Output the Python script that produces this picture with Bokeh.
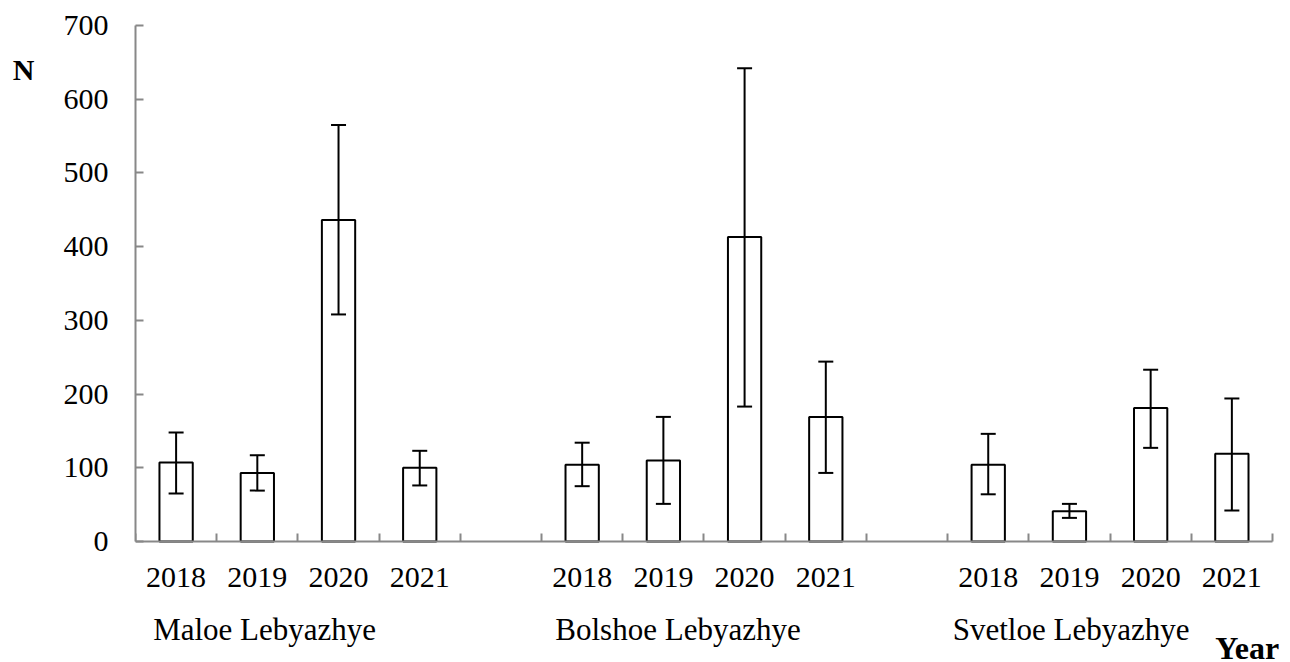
from bokeh.plotting import figure
from bokeh.models import (ColumnDataSource, Range1d, FixedTicker, Whisker, TeeHead, LinearAxis, Label)
from bokeh.core.properties import value
from bokeh.embed import file_html
from bokeh.resources import INLINE

# ---- data ----
sites = ["Maloe Lebyazhye", "Bolshoe Lebyazhye", "Svetloe Lebyazhye"]
years = ["2018", "2019", "2020", "2021"]
maloe_mean = [107, 93, 436, 100]
maloe_low = [65, 69, 308, 76]
maloe_high = [148, 117, 565, 123]
bolshoe_mean = [104, 110, 413, 169]
bolshoe_low = [75, 51, 183, 93]
bolshoe_high = [134, 169, 642, 244]
svetloe_mean = [104, 41, 181, 119]
svetloe_low = [64, 32, 127, 42]
svetloe_high = [146, 51, 233, 194]
y_ticks = [0, 100, 200, 300, 400, 500, 600, 700]
y_title = "N"
x_title = "Year"

FONT = "Liberation Serif"
GRAY = "#888888"

means = [maloe_mean, bolshoe_mean, svetloe_mean]
lows = [maloe_low, bolshoe_low, svetloe_low]
highs = [maloe_high, bolshoe_high, svetloe_high]

n_years = len(years)
slots_per_group = n_years + 1
n_slots = len(sites) * slots_per_group - 1

xs, tops, lo, hi, labels = [], [], [], [], {}
for g in range(len(sites)):
    for i in range(n_years):
        c = g * slots_per_group + i + 0.5
        xs.append(c)
        tops.append(means[g][i])
        lo.append(lows[g][i])
        hi.append(highs[g][i])
        labels[c] = years[i]

src = ColumnDataSource(dict(x=xs, top=tops, lower=lo, upper=hi))

W, H = 1290, 662
# frame spans to the right/bottom edges; axis is pinned at y = 0
p = figure(width=W, height=H, output_backend="svg", toolbar_location=None,
           x_range=Range1d(0, 14.222), y_range=Range1d(-164.2, 700),
           min_border_left=135, min_border_right=0, min_border_top=25,
           min_border_bottom=0)
p.outline_line_color = None
p.xgrid.grid_line_color = None
p.ygrid.grid_line_color = None
p.background_fill_color = "white"
p.border_fill_color = "white"

p.vbar(x="x", top="top", bottom=0, width=0.41, source=src,
       fill_color="white", line_color="black", line_width=2)

w = Whisker(base="x", lower="lower", upper="upper", source=src,
            line_color="black", line_width=2, level="overlay",
            upper_head=TeeHead(size=15, line_color="black", line_width=2),
            lower_head=TeeHead(size=15, line_color="black", line_width=2))
p.add_layout(w)

# x axis (years, with slot-boundary ticks)
xa = p.xaxis[0]
xa.fixed_location = 0
xa.bounds = (0, n_slots)
xa.ticker = FixedTicker(ticks=xs, minor_ticks=list(range(0, n_slots + 1)))
xa.major_label_overrides = labels
xa.major_tick_line_color = None
xa.major_tick_in = 0
xa.major_tick_out = 0
xa.minor_tick_in = 8
xa.minor_tick_out = 0
xa.minor_tick_line_color = GRAY
xa.minor_tick_line_width = 2
xa.axis_line_color = GRAY
xa.axis_line_width = 2
xa.major_label_text_font = FONT
xa.major_label_text_font_size = "30px"
xa.major_label_text_color = "black"
xa.major_label_standoff = 27

# site names under the year labels
site_pos = [1.59, 6.68, 11.52]
p.text(x=site_pos, y=[-119.5] * len(sites), text=sites,
       text_font=value(FONT), text_font_size="31px", text_color="black",
       text_align="center", text_baseline="alphabetic")

# x title
p.add_layout(Label(x=13.69, y=-144.0, text=x_title, text_font=FONT,
                   text_font_size="32px", text_font_style="bold",
                   text_color="black", text_align="center",
                   text_baseline="alphabetic"))

# y axis
ya = p.yaxis[0]
ya.bounds = (0, 700)
ya.ticker = FixedTicker(ticks=y_ticks)
ya.major_tick_in = 8
ya.major_tick_out = 0
ya.major_tick_line_color = GRAY
ya.major_tick_line_width = 2
ya.minor_tick_line_color = None
ya.axis_line_color = GRAY
ya.axis_line_width = 2
ya.major_label_text_font = FONT
ya.major_label_text_font_size = "30px"
ya.major_label_text_color = "black"
ya.major_label_standoff = 27

# second y axis carrying the "N" title
ya2 = LinearAxis(ticker=FixedTicker(ticks=[640], minor_ticks=[]),
                 major_label_overrides={640: y_title})
ya2.axis_line_color = None
ya2.major_tick_line_color = None
ya2.minor_tick_line_color = None
ya2.major_tick_in = 0
ya2.major_tick_out = 0
ya2.major_label_text_font = FONT
ya2.major_label_text_font_size = "30px"
ya2.major_label_text_font_style = "bold"
ya2.major_label_text_color = "black"
ya2.major_label_standoff = 26
p.add_layout(ya2, "left")

open("out.html", "w").write(file_html(p, INLINE))
